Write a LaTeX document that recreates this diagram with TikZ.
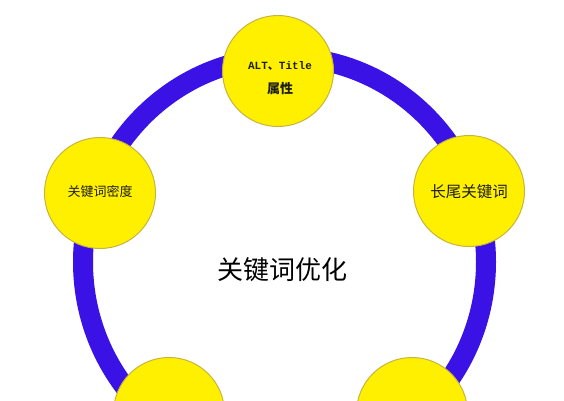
\documentclass[tikz,border=0pt]{standalone}
\usepackage{fontspec}
\newfontfamily\cjk{Noto Sans CJK SC}
\newfontfamily\monof{Liberation Mono}
\definecolor{ringblue}{HTML}{3A12E6}
\definecolor{bubfill}{HTML}{FFF000}
\definecolor{bubline}{HTML}{C8B43C}
\definecolor{txt}{HTML}{1E1E1E}
\begin{document}
\begin{tikzpicture}[x=1pt,y=-1pt,
  bubble/.style={circle,fill=bubfill,draw=bubline,line width=1pt,minimum size=111pt,inner sep=0pt},
  ringline/.style={draw=ringblue,line width=20pt},
  lbl/.style={text=txt,inner sep=0pt,font=\cjk}]
\useasboundingbox (0,0) rectangle (564,400);
\clip (0,0) rectangle (564,400);
\fill[white] (0,0) rectangle (564,400);
\coordinate (c) at (284.5,262);
\draw[ringline] (c) ellipse [x radius=201.5, y radius=205];
\node[bubble] (top) at (278,71) {};
\node[bubble] (left) at (100,193) {};
\node[bubble] (right) at (469,191) {};
\node[bubble] (bl) at (169,413) {};
\node[bubble] (br) at (412,413) {};
\node[lbl] (t1) at (280,66) {\monof\bfseries\fontsize{11}{12}\selectfont ALT{\cjk 、}Title};
\node[lbl] (t2) at (280,89) {\cjk\bfseries\fontsize{13}{14}\selectfont 属性};
\node[lbl] (l1) at (100,192) {\fontsize{13}{14}\selectfont 关键词密度};
\node[lbl] (r1) at (469,192) {\fontsize{15.5}{16}\selectfont 长尾关键词};
\node[lbl,text=black] (center) at (282,270) {\fontsize{26}{28}\selectfont 关键词优化};
\end{tikzpicture}
\end{document}
